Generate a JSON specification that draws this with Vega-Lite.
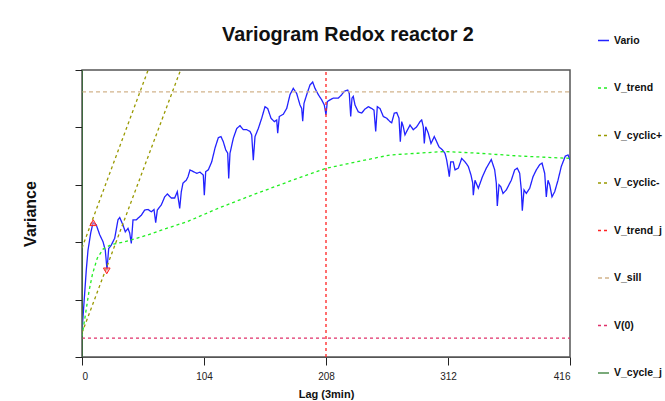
{
  "$schema": "https://vega.github.io/schema/vega-lite/v6.json",
  "width": 488,
  "height": 287,
  "autosize": "none",
  "padding": {"left": 82, "top": 70, "right": 95, "bottom": 44},
  "background": "white",
  "title": {"text": "Variogram Redox reactor 2", "font": "Liberation Sans", "fontSize": 19.8, "fontWeight": "bold", "color": "#111", "anchor": "middle", "dx": 22, "dy": 37, "offset": 26},
  "config": {
    "font": "Liberation Sans",
    "view": {"stroke": "#555", "strokeWidth": 1.5},
    "axis": {"grid": false, "domainColor": "#333", "tickColor": "#222", "labelColor": "#222", "titleColor": "#111", "labelFont": "Liberation Sans", "titleFont": "Liberation Sans"}
  },
  "datasets": {
    "series": [
      {"s":"Vario","x":0,"y":0.44},{"s":"Vario","x":1.7,"y":0.94},{"s":"Vario","x":3.67,"y":1.52},{"s":"Vario","x":5.11,"y":1.86},{"s":"Vario","x":7.42,"y":2.16},{"s":"Vario","x":9.38,"y":2.34},{"s":"Vario","x":12.19,"y":2.3},{"s":"Vario","x":15.09,"y":2.13},{"s":"Vario","x":17.9,"y":2.01},{"s":"Vario","x":19.86,"y":1.86},{"s":"Vario","x":21.31,"y":1.52},{"s":"Vario","x":22.76,"y":1.89},{"s":"Vario","x":24.98,"y":1.95},{"s":"Vario","x":27.88,"y":2.07},{"s":"Vario","x":30.69,"y":2.39},{"s":"Vario","x":32.14,"y":2.43},{"s":"Vario","x":34.95,"y":2.3},{"s":"Vario","x":36.91,"y":2.18},{"s":"Vario","x":39.21,"y":2.24},{"s":"Vario","x":40.66,"y":2.16},{"s":"Vario","x":42.03,"y":1.98},{"s":"Vario","x":43.48,"y":2.39},{"s":"Vario","x":46.29,"y":2.39},{"s":"Vario","x":50.55,"y":2.47},{"s":"Vario","x":53.45,"y":2.56},{"s":"Vario","x":56.26,"y":2.57},{"s":"Vario","x":59.08,"y":2.53},{"s":"Vario","x":61.38,"y":2.57},{"s":"Vario","x":62.83,"y":2.34},{"s":"Vario","x":64.19,"y":2.56},{"s":"Vario","x":67.6,"y":2.65},{"s":"Vario","x":70.5,"y":2.79},{"s":"Vario","x":72.71,"y":2.84},{"s":"Vario","x":76.13,"y":2.77},{"s":"Vario","x":79.02,"y":2.77},{"s":"Vario","x":81.24,"y":2.88},{"s":"Vario","x":83.29,"y":2.59},{"s":"Vario","x":84.65,"y":2.88},{"s":"Vario","x":86.1,"y":3.03},{"s":"Vario","x":88.91,"y":3.08},{"s":"Vario","x":90.36,"y":3.14},{"s":"Vario","x":92.07,"y":3.26},{"s":"Vario","x":94.88,"y":3.23},{"s":"Vario","x":97.78,"y":3.2},{"s":"Vario","x":100.59,"y":3.22},{"s":"Vario","x":103.4,"y":3.17},{"s":"Vario","x":104.26,"y":2.82},{"s":"Vario","x":105.45,"y":3.23},{"s":"Vario","x":107.67,"y":3.26},{"s":"Vario","x":110.57,"y":3.4},{"s":"Vario","x":113.38,"y":3.64},{"s":"Vario","x":116.19,"y":3.82},{"s":"Vario","x":118.49,"y":3.84},{"s":"Vario","x":120.45,"y":3.75},{"s":"Vario","x":122.5,"y":3.61},{"s":"Vario","x":124.21,"y":3.55},{"s":"Vario","x":125.06,"y":3.11},{"s":"Vario","x":126.16,"y":3.55},{"s":"Vario","x":128.98,"y":3.81},{"s":"Vario","x":131.88,"y":3.98},{"s":"Vario","x":134.69,"y":4.03},{"s":"Vario","x":137.5,"y":3.96},{"s":"Vario","x":140.4,"y":3.96},{"s":"Vario","x":143.21,"y":3.93},{"s":"Vario","x":144.66,"y":3.87},{"s":"Vario","x":146.03,"y":3.43},{"s":"Vario","x":147.48,"y":3.84},{"s":"Vario","x":150.29,"y":3.98},{"s":"Vario","x":153.19,"y":4.16},{"s":"Vario","x":156,"y":4.36},{"s":"Vario","x":158.3,"y":4.33},{"s":"Vario","x":161.11,"y":4.16},{"s":"Vario","x":163.93,"y":4.1},{"s":"Vario","x":165.97,"y":4.13},{"s":"Vario","x":166.83,"y":3.9},{"s":"Vario","x":168.19,"y":4.19},{"s":"Vario","x":171.6,"y":4.23},{"s":"Vario","x":174.5,"y":4.33},{"s":"Vario","x":177.31,"y":4.57},{"s":"Vario","x":180.12,"y":4.68},{"s":"Vario","x":183.02,"y":4.59},{"s":"Vario","x":185.84,"y":4.39},{"s":"Vario","x":187.29,"y":4.33},{"s":"Vario","x":188.14,"y":4.11},{"s":"Vario","x":189.25,"y":4.42},{"s":"Vario","x":191.55,"y":4.57},{"s":"Vario","x":194.36,"y":4.74},{"s":"Vario","x":196.66,"y":4.79},{"s":"Vario","x":198.62,"y":4.68},{"s":"Vario","x":201.44,"y":4.57},{"s":"Vario","x":204.34,"y":4.48},{"s":"Vario","x":206.55,"y":4.39},{"s":"Vario","x":208,"y":4.22},{"s":"Vario","x":209.11,"y":4.45},{"s":"Vario","x":211.41,"y":4.48},{"s":"Vario","x":214.22,"y":4.51},{"s":"Vario","x":218.49,"y":4.51},{"s":"Vario","x":221.38,"y":4.57},{"s":"Vario","x":223.6,"y":4.63},{"s":"Vario","x":226.5,"y":4.65},{"s":"Vario","x":227.86,"y":4.59},{"s":"Vario","x":229.06,"y":4.19},{"s":"Vario","x":230.16,"y":4.51},{"s":"Vario","x":231.27,"y":4.54},{"s":"Vario","x":232.72,"y":4.39},{"s":"Vario","x":235.54,"y":4.27},{"s":"Vario","x":238.43,"y":4.25},{"s":"Vario","x":241.25,"y":4.32},{"s":"Vario","x":244.06,"y":4.36},{"s":"Vario","x":246.96,"y":4.33},{"s":"Vario","x":248.92,"y":4.3},{"s":"Vario","x":250.37,"y":3.93},{"s":"Vario","x":251.73,"y":4.36},{"s":"Vario","x":254.03,"y":4.33},{"s":"Vario","x":256.85,"y":4.19},{"s":"Vario","x":259.75,"y":4.16},{"s":"Vario","x":262.56,"y":4.1},{"s":"Vario","x":264.01,"y":4.08},{"s":"Vario","x":266.23,"y":4.25},{"s":"Vario","x":268.27,"y":4.26},{"s":"Vario","x":270.23,"y":4.16},{"s":"Vario","x":271.34,"y":3.75},{"s":"Vario","x":272.53,"y":4.1},{"s":"Vario","x":273.9,"y":4.01},{"s":"Vario","x":275.34,"y":3.87},{"s":"Vario","x":276.79,"y":3.93},{"s":"Vario","x":279.61,"y":4.04},{"s":"Vario","x":282.42,"y":3.96},{"s":"Vario","x":285.32,"y":4.01},{"s":"Vario","x":288.13,"y":4.1},{"s":"Vario","x":289.58,"y":4.13},{"s":"Vario","x":290.95,"y":4.01},{"s":"Vario","x":291.8,"y":3.72},{"s":"Vario","x":292.99,"y":4.01},{"s":"Vario","x":295.21,"y":3.9},{"s":"Vario","x":297.51,"y":3.72},{"s":"Vario","x":300.32,"y":3.84},{"s":"Vario","x":302.37,"y":3.75},{"s":"Vario","x":304.33,"y":3.66},{"s":"Vario","x":307.14,"y":3.61},{"s":"Vario","x":309.44,"y":3.55},{"s":"Vario","x":310.89,"y":3.43},{"s":"Vario","x":312.26,"y":3.26},{"s":"Vario","x":313.11,"y":3.14},{"s":"Vario","x":314.3,"y":3.4},{"s":"Vario","x":316.52,"y":3.4},{"s":"Vario","x":317.97,"y":3.26},{"s":"Vario","x":320.78,"y":3.29},{"s":"Vario","x":323.68,"y":3.46},{"s":"Vario","x":326.49,"y":3.4},{"s":"Vario","x":329.3,"y":3.32},{"s":"Vario","x":331.61,"y":3.17},{"s":"Vario","x":333.06,"y":3.03},{"s":"Vario","x":333.57,"y":2.82},{"s":"Vario","x":335.02,"y":3.08},{"s":"Vario","x":337.83,"y":2.94},{"s":"Vario","x":341.34,"y":3.14},{"s":"Vario","x":344.65,"y":3.29},{"s":"Vario","x":348.91,"y":3.44},{"s":"Vario","x":351.81,"y":3.26},{"s":"Vario","x":353.18,"y":3.03},{"s":"Vario","x":354.03,"y":2.63},{"s":"Vario","x":355.48,"y":3.0},{"s":"Vario","x":356.93,"y":2.97},{"s":"Vario","x":358.89,"y":2.85},{"s":"Vario","x":361.7,"y":2.91},{"s":"Vario","x":365.97,"y":3.08},{"s":"Vario","x":368.86,"y":3.26},{"s":"Vario","x":371.08,"y":3.29},{"s":"Vario","x":373.12,"y":3.2},{"s":"Vario","x":374.49,"y":2.91},{"s":"Vario","x":375.34,"y":2.55},{"s":"Vario","x":376.79,"y":2.91},{"s":"Vario","x":378.75,"y":2.85},{"s":"Vario","x":381.65,"y":2.94},{"s":"Vario","x":384.46,"y":3.14},{"s":"Vario","x":387.28,"y":3.26},{"s":"Vario","x":390.17,"y":3.35},{"s":"Vario","x":392.13,"y":3.38},{"s":"Vario","x":394.43,"y":3.2},{"s":"Vario","x":395.8,"y":2.79},{"s":"Vario","x":397.25,"y":3.08},{"s":"Vario","x":398.7,"y":3.0},{"s":"Vario","x":400.66,"y":2.79},{"s":"Vario","x":402.96,"y":2.88},{"s":"Vario","x":405.77,"y":3.08},{"s":"Vario","x":408.59,"y":3.32},{"s":"Vario","x":412,"y":3.5},{"s":"Vario","x":414.3,"y":3.52},{"s":"Vario","x":416,"y":3.43},
      {"s":"V_trend","x":0,"y":0.36},{"s":"V_trend","x":3,"y":0.75},{"s":"V_trend","x":6,"y":1.15},{"s":"V_trend","x":9,"y":1.45},{"s":"V_trend","x":13,"y":1.72},{"s":"V_trend","x":18,"y":1.88},{"s":"V_trend","x":25,"y":1.96},{"s":"V_trend","x":35,"y":2.0},{"s":"V_trend","x":42,"y":2.04},{"s":"V_trend","x":55,"y":2.12},{"s":"V_trend","x":67.6,"y":2.21},{"s":"V_trend","x":90,"y":2.36},{"s":"V_trend","x":116,"y":2.59},{"s":"V_trend","x":145,"y":2.82},{"s":"V_trend","x":182,"y":3.1},{"s":"V_trend","x":208.6,"y":3.29},{"s":"V_trend","x":234,"y":3.4},{"s":"V_trend","x":262.6,"y":3.52},{"s":"V_trend","x":286,"y":3.55},{"s":"V_trend","x":309,"y":3.58},{"s":"V_trend","x":338,"y":3.55},{"s":"V_trend","x":374,"y":3.5},{"s":"V_trend","x":416,"y":3.46},
      {"s":"V_cyclic+","x":0,"y":1.9},{"s":"V_cyclic+","x":70,"y":5.75},
      {"s":"V_cyclic-","x":0,"y":0.42},{"s":"V_cyclic-","x":100,"y":5.87},
      {"s":"V_trend_j","x":208,"y":0},{"s":"V_trend_j","x":208,"y":5},
      {"s":"V_sill","x":0,"y":4.62},{"s":"V_sill","x":416,"y":4.62},
      {"s":"V(0)","x":0,"y":0.33},{"s":"V(0)","x":416,"y":0.33},
      {"s":"V_cycle_j","x":0,"y":0},{"s":"V_cycle_j","x":0,"y":5}
    ],
    "peaks": [
      {"x":9.6,"y":2.34,"kind":"max"},
      {"x":21.1,"y":1.5,"kind":"min"}
    ]
  },
  "layer": [
    {
      "data": {"name": "series"},
      "mark": {"type": "line", "clip": true, "strokeWidth": 1.3},
      "encoding": {
        "x": {"field": "x", "type": "quantitative", "scale": {"domain": [0, 416], "nice": false, "zero": false},
          "axis": {"values": [0, 104, 208, 312, 416], "title": "Lag (3min)", "titleFontSize": 11, "titleFontWeight": "bold", "labelFontSize": 10, "tickSize": 8, "labelPadding": 6, "titlePadding": 7, "domainColor": "#555"}},
        "y": {"field": "y", "type": "quantitative", "scale": {"domain": [0, 5], "nice": false},
          "axis": {"values": [0, 1, 2, 3, 4, 5], "labels": false, "tickSize": 7, "title": "Variance", "titleFontSize": 16, "titleFontWeight": "bold", "titleX": -52, "titleY": 143.5, "titleAngle": 270, "titleAlign": "center", "titleBaseline": "middle", "domainColor": "#222"}},
        "color": {"field": "s", "type": "nominal",
          "scale": {"domain": ["Vario", "V_trend", "V_cyclic+", "V_cyclic-", "V_trend_j", "V_sill", "V(0)", "V_cycle_j"],
                    "range": ["#2222ff", "#22ee22", "#999900", "#999900", "#ff2222", "#d2b48c", "#e0306a", "#4f8f4f"]},
          "legend": {"title": null, "orient": "none", "legendX": 515, "legendY": -36, "symbolType": "stroke", "symbolSize": 121, "symbolStrokeWidth": 1.5, "labelFontSize": 10.5, "labelFontWeight": "bold", "labelColor": "#111", "labelOffset": 4, "rowPadding": 35.5, "labelFont": "Liberation Sans"}},
        "strokeDash": {"field": "s", "type": "nominal",
          "scale": {"domain": ["Vario", "V_trend", "V_cyclic+", "V_cyclic-", "V_trend_j", "V_sill", "V(0)", "V_cycle_j"],
                    "range": [[1, 0], [3, 3], [3, 3], [3, 3], [3, 3], [4, 3], [3, 3], [1, 0]]},
          "legend": {"title": null}}
      }
    },
    {
      "data": {"name": "peaks"},
      "mark": {"type": "point", "filled": true, "size": 45, "stroke": "#ff2222", "strokeWidth": 1, "fill": "#ff9999", "fillOpacity": 0.6},
      "encoding": {
        "x": {"field": "x", "type": "quantitative"},
        "y": {"field": "y", "type": "quantitative"},
        "shape": {"field": "kind", "type": "nominal", "scale": {"domain": ["max", "min"], "range": ["triangle-up", "triangle-down"]}, "legend": null}
      }
    }
  ]
}
